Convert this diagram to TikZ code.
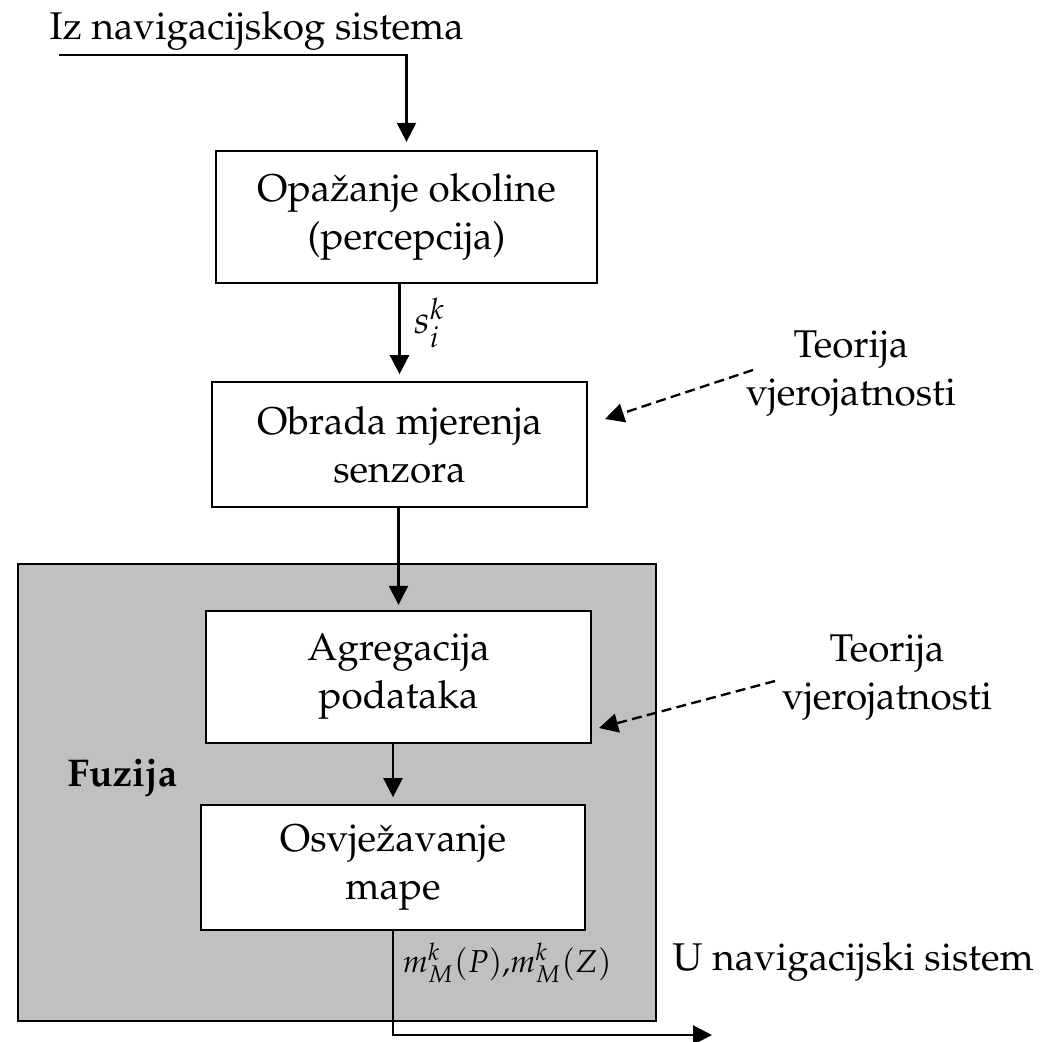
\documentclass[tikz,border=0pt]{standalone}
\usepackage[T1]{fontenc}
\usepackage{mathpazo}
\usetikzlibrary{arrows.meta}
\definecolor{fusiongray}{RGB}{192,192,192}
\tikzset{
  stage/.style={draw, fill=white, line width=0.7pt, align=center, inner sep=0pt},
  fusionarea/.style={draw, fill=fusiongray, line width=0.7pt, inner sep=0pt},
  flow/.style={line width=0.7pt, -{Triangle[length=5.7pt,width=5.7pt]}},
  hint/.style={flow, dash pattern=on 3pt off 1.6pt},
  caption/.style={align=center, inner sep=0pt},
  plain/.style={inner sep=0pt}
}
\begin{document}
\begin{tikzpicture}[x=0.3pt, y=-0.3pt, font=\fontsize{11.6}{14.4}\selectfont]
  \useasboundingbox (0,0) rectangle (1048,1041);

  % shaded fusion block
  \node[fusionarea, minimum width=191.4pt, minimum height=137.1pt] (fusion) at (337,792.5) {};
  \node[plain, anchor=base west, font=\fontsize{11.6}{14.4}\selectfont\bfseries] (fuz) at (67,786) {Fuzija};

  % processing stages
  \node[stage, minimum width=114.3pt, minimum height=39.6pt] (b1) at (406.5,217) {Opa\v{z}anje okoline\\(percepcija)};
  \node[stage, minimum width=112.5pt, minimum height=37.5pt] (b2) at (399.5,444.5) {Obrada mjerenja\\senzora};
  \node[stage, minimum width=115.5pt, minimum height=39.6pt] (b3) at (398.5,677) {Agregacija\\podataka};
  \node[stage, minimum width=115.2pt, minimum height=37.5pt] (b4) at (393,867.5) {Osvje\v{z}avanje\\mape};

  % external inputs and outputs
  \node[plain, anchor=base west] (src) at (49,39) {Iz navigacijskog sistema};
  \node[plain, anchor=base west] (dst) at (672,970) {U navigacijski sistem};
  \node[caption] (th1) at (851,374) {Teorija\\vjerojatnosti};
  \node[caption] (th2) at (887,677.5) {Teorija\\vjerojatnosti};

  \coordinate (in) at (59,55);
  \coordinate (out) at (712,1035);
  \coordinate (h1s) at (753,370);
  \coordinate (h1e) at (605,419);
  \coordinate (h2s) at (775,681);
  \coordinate (h2e) at (599,728);

  % main flow
  \draw[flow, shorten >=2.4pt] (in) -- (in -| b1.north) -- (b1.north);
  \draw[flow, shorten >=2pt] (b1.south -| b2.north) -- (b2.north)
    node[plain, pos=0.4, anchor=west, xshift=4pt] (sik) {$s_i^k$};
  \draw[flow, shorten >=1.5pt] (b2.south -| b3.north) -- (b3.north);
  \draw[flow, shorten >=2pt] (b3.south -| b4.north) -- (b4.north);
  \draw[flow] (b4.south) -- (b4.south |- out) -- (out);
  \node[plain, anchor=base west, font=\fontsize{9.5}{11}\selectfont] (mlab) at (402,972) {$m_M^k(P){,}m_M^k(Z)$};

  % theory hints
  \draw[hint] (h1s) -- (h1e);
  \draw[hint] (h2s) -- (h2e);
\end{tikzpicture}
\end{document}
